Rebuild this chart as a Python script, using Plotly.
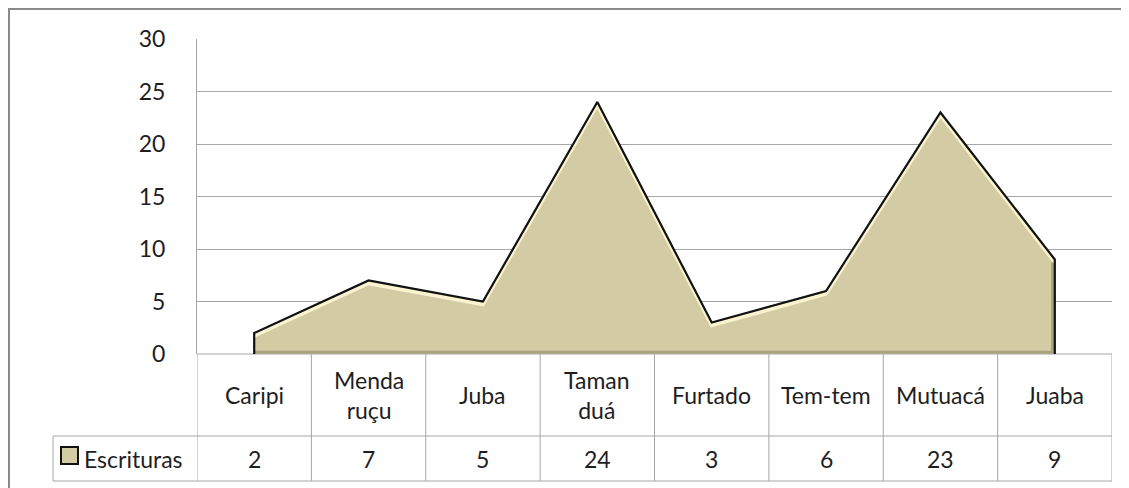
import plotly.graph_objects as go

categories = ["Caripi", "Menda ruçu", "Juba", "Taman duá", "Furtado", "Tem-tem", "Mutuacá", "Juaba"]
category_labels = ["Caripi", "Menda<br>ruçu", "Juba", "Taman<br>duá", "Furtado", "Tem-tem", "Mutuacá", "Juaba"]
series_name = "Escrituras"
values = [2, 7, 5, 24, 3, 6, 23, 9]
y_ticks = [0, 5, 10, 15, 20, 25, 30]

# page body has an 8px margin, so figure coordinates = reference pixels - 8
OFF = 8
W, H = 1121, 480
L, R, T, B = 197 - OFF, 17, 39 - OFF, 134
plot_w = W - L - R
plot_h = H - T - B

FONT = "Lato"
TXT = "#1e1e1e"
GRID = "#a6a6a6"
FILL = "#d3cba4"
FS = 23

def py(pix):
    return (T + plot_h - (pix - OFF)) / plot_h

def px(pix):
    return ((pix - OFF) - L) / plot_w

n = len(categories)
xs = list(range(n))
bevel = 3 * 30 / plot_h  # ~3 px inset for the highlight, in data units

fig = go.Figure()
poly_x = [xs[0]] + xs + [xs[-1]]
poly_y = [0] + values + [0]
fig.add_trace(go.Scatter(
    x=poly_x, y=poly_y, mode="lines", fill="toself", fillcolor=FILL,
    line=dict(color=FILL, width=0), hoverinfo="skip", showlegend=False,
))
# soft bevel highlight just inside the top edge
fig.add_trace(go.Scatter(
    x=xs, y=[v - bevel for v in values], mode="lines",
    line=dict(color="rgba(255,250,215,0.85)", width=3.5), hoverinfo="skip", showlegend=False,
))
# dark inner shade along right and bottom edges
fig.add_trace(go.Scatter(
    x=[xs[-1] - 0.02, xs[-1] - 0.02, xs[0]], y=[values[-1] - bevel, bevel * 0.6, bevel * 0.6], mode="lines",
    line=dict(color="rgba(90,85,60,0.35)", width=3), hoverinfo="skip", showlegend=False,
))
fig.add_trace(go.Scatter(
    x=poly_x, y=poly_y, mode="lines",
    line=dict(color="#111111", width=2.2), hoverinfo="skip", showlegend=False,
))

row1_bot = py(436)
row2_bot = py(481)
shapes = []
line_style = dict(color=GRID, width=1)
for i in range(n + 1):
    shapes.append(dict(type="line", xref="x", yref="paper", x0=i - 0.5, x1=i - 0.5,
                       y0=0, y1=row2_bot, line=line_style, layer="below"))
shapes.append(dict(type="line", xref="paper", yref="paper", x0=0, x1=1, y0=0, y1=0, line=line_style, layer="below"))
shapes.append(dict(type="line", xref="paper", yref="paper", x0=px(53), x1=1, y0=row1_bot, y1=row1_bot, line=line_style))
shapes.append(dict(type="line", xref="paper", yref="paper", x0=px(53), x1=1, y0=row2_bot, y1=row2_bot, line=line_style))
shapes.append(dict(type="line", xref="paper", yref="paper", x0=px(53), x1=px(53), y0=row1_bot, y1=row2_bot, line=line_style))
shapes.append(dict(type="rect", xref="paper", yref="paper", x0=px(61), x1=px(78), y0=py(447), y1=py(464),
                   fillcolor=FILL, line=dict(color="#111111", width=2)))
# outer frame: only top and left edges are visible in the picture
frame = dict(color="#8a8a8a", width=2)
shapes.append(dict(type="line", xref="paper", yref="paper", x0=px(8), x1=px(1135), y0=py(9), y1=py(9), line=frame))
shapes.append(dict(type="line", xref="paper", yref="paper", x0=px(9), x1=px(9), y0=py(8), y1=py(495), line=frame))

annotations = []
row1_mid = py(395)
row2_mid = py(459)
for i, (lab, v) in enumerate(zip(category_labels, values)):
    annotations.append(dict(x=i, y=row1_mid, xref="x", yref="paper", text=lab, showarrow=False,
                            font=dict(family=FONT, size=FS, color=TXT), xanchor="center", yanchor="middle"))
    annotations.append(dict(x=i, y=row2_mid, xref="x", yref="paper", text=str(v), showarrow=False,
                            font=dict(family=FONT, size=FS, color=TXT), xanchor="center", yanchor="middle"))
annotations.append(dict(x=px(82), y=row2_mid, xref="paper", yref="paper", text=series_name, showarrow=False,
                        font=dict(family=FONT, size=FS, color=TXT), xanchor="left", yanchor="middle"))

fig.update_layout(
    width=W, height=H,
    margin=dict(l=L, r=R, t=T, b=B),
    paper_bgcolor="white", plot_bgcolor="white",
    showlegend=False,
    shapes=shapes, annotations=annotations,
    xaxis=dict(range=[-0.5, n - 0.5], showticklabels=False, showgrid=False, zeroline=False,
               showline=False, ticks="", fixedrange=True),
    yaxis=dict(range=[0, 30], tickvals=y_ticks, showgrid=True, gridcolor=GRID, gridwidth=1,
               zeroline=False, showline=True, linecolor=GRID, linewidth=1, ticks="",
               ticklabelstandoff=26, tickfont=dict(family=FONT, size=FS, color=TXT), fixedrange=True),
)

fig.write_html("out.html")
